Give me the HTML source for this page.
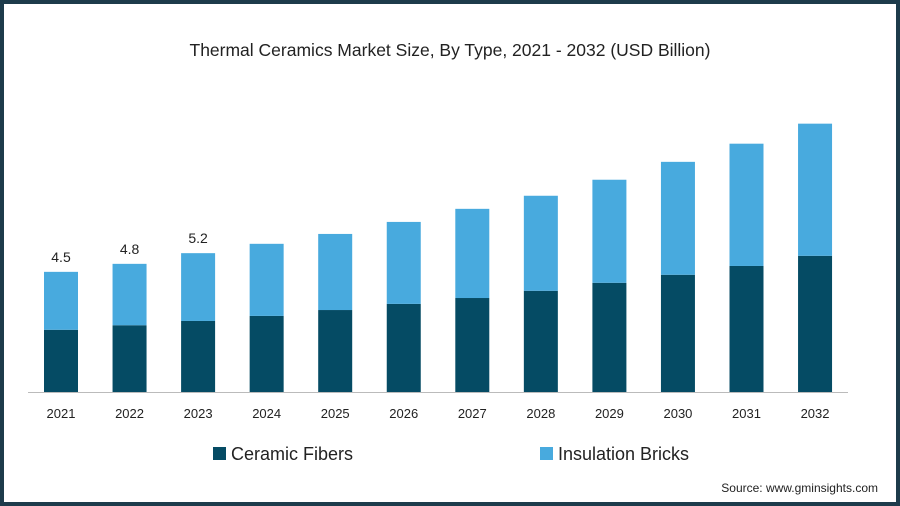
<!DOCTYPE html>
<html><head><meta charset="utf-8"><style>
html,body{margin:0;padding:0;background:#fff}
#wrap{position:relative;width:900px;height:506px;box-sizing:border-box;border:4px solid #1d3b4b;background:#fff;font-family:"Liberation Sans",sans-serif;overflow:hidden}
</style></head><body>
<div id="wrap">
<svg id="chart" width="892" height="498" viewBox="4 4 892 498" style="position:absolute;left:0;top:0"></svg>
</div>
<script>
const years=["2021","2022","2023","2024","2025","2026","2027","2028","2029","2030","2031","2032"];
const ceramicFibers=[2.33,2.5,2.66,2.85,3.07,3.3,3.52,3.79,4.09,4.39,4.72,5.1];
const insulationBricks=[2.17,2.3,2.54,2.7,2.85,3.07,3.34,3.56,3.86,4.23,4.58,4.95];
const totalLabels=["4.5","4.8","5.2","","","","","","","","",""];
const NS="http://www.w3.org/2000/svg";
const svg=document.getElementById('chart');
const baseY=392, pxPerUnit=26.7, x0=61, step=68.55, bw=34;
const xPos=i=>x0+i*step;
const yPos=v=>baseY-v*pxPerUnit;
function mk(tag,attrs,text){const e=document.createElementNS(NS,tag);for(const k in attrs)e.setAttribute(k,attrs[k]);if(text!==undefined)e.textContent=text;svg.appendChild(e);return e;}
let t=mk('text',{x:450,y:56,'text-anchor':'middle','font-size':'17.5',fill:'#222','font-family':'Liberation Sans, sans-serif'},'Thermal Ceramics Market Size, By Type, 2021 - 2032 (USD Billion)');


years.forEach((y,i)=>{
  const cx=xPos(i);
  const d=ceramicFibers[i], l=insulationBricks[i];
  let r1=mk('rect',{x:cx-bw/2,y:yPos(d),width:bw,height:baseY-yPos(d),fill:'#054b64'});
  
  
  let r2=mk('rect',{x:cx-bw/2,y:yPos(d+l),width:bw,height:yPos(d)-yPos(d+l),fill:'#48aade'});
  
  
  let tl=mk('text',{x:cx,y:418,'text-anchor':'middle','font-size':'13',fill:'#222'},y);
  
  
  if(totalLabels[i]){
    let vl=mk('text',{x:cx,y:yPos(d+l)-10,'text-anchor':'middle','font-size':'14',fill:'#222'},totalLabels[i]);
    
    
  }
});
let ax=mk('line',{x1:28,x2:848,y1:baseY+0.5,y2:baseY+0.5,stroke:'#bbb','stroke-width':1});


let s1=mk('rect',{x:213,y:447,width:13,height:13,fill:'#054b64'});


let l1=mk('text',{x:231,y:460,'font-size':'18',fill:'#222'},'Ceramic Fibers');


let s2=mk('rect',{x:540,y:447,width:13,height:13,fill:'#48aade'});


let l2=mk('text',{x:558,y:460,'font-size':'18',fill:'#222'},'Insulation Bricks');


let src=mk('text',{x:878,y:492,'text-anchor':'end','font-size':'12',fill:'#222'},'Source: www.gminsights.com');


</script>
</body></html>
